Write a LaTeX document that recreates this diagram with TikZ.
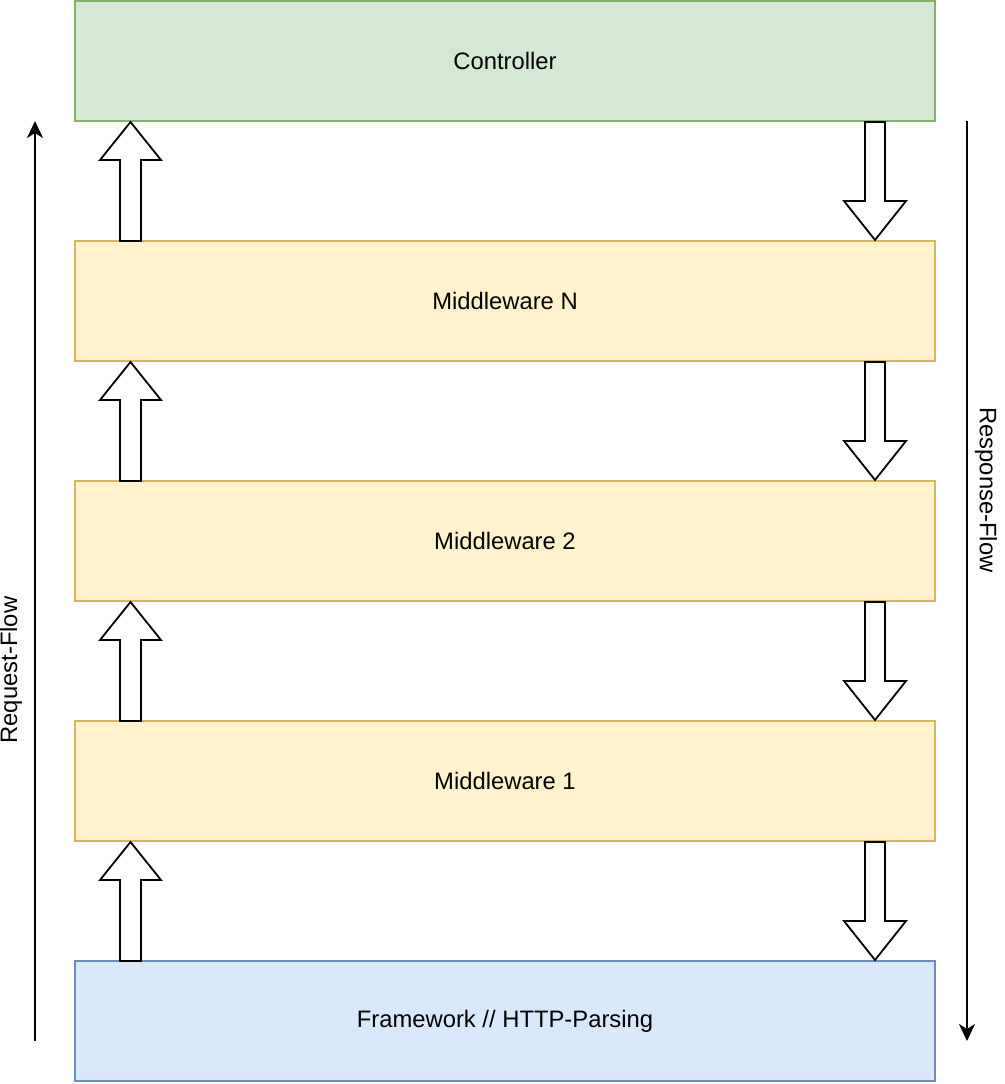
\documentclass[tikz,border=0pt]{standalone}
\usepackage{fontspec}
\setmainfont{Liberation Sans}
\usetikzlibrary{arrows.meta}
\definecolor{gfill}{HTML}{D5E8D4}\definecolor{gline}{HTML}{82B366}
\definecolor{yfill}{HTML}{FFF2CC}\definecolor{yline}{HTML}{D6B656}
\definecolor{bfill}{HTML}{DAE8FC}\definecolor{bline}{HTML}{6C8EBF}
\tikzset{
  layer/.style={line width=1.8pt, minimum width=860pt, minimum height=120pt, inner sep=0pt, outer sep=0pt, anchor=north west, font=\fontsize{23.8}{28}\selectfont},
  ctrl/.style={layer, fill=gfill, draw=gline},
  mw/.style={layer, fill=yfill, draw=yline},
  fw/.style={layer, fill=bfill, draw=bline},
  blk/.style={draw=black, fill=white, line width=1.8pt, line join=miter},
  flow/.style={line width=2pt, -{Stealth[length=17pt,width=16pt,inset=5pt]}},
  lbl/.style={font=\fontsize{23.8}{28}\selectfont, inner sep=0pt}
}
\begin{document}
\begin{tikzpicture}[x=1pt,y=-1pt]
\useasboundingbox (0,0) rectangle (1004,1084);
\node[ctrl] (c) at (75,1) {Controller};
\node[mw] (mn) at (75,241) {Middleware N};
\node[mw] (m2) at (75,481) {Middleware 2};
\node[mw] (m1) at (75,721) {Middleware 1};
\node[fw] (f) at (75,961) {Framework // HTTP-Parsing};
% up block arrows (request)
\foreach \t in {121,361,601,841}{
  \draw[blk] (120,\t+120) -- (120,\t+39) -- (100,\t+39) -- (130.5,\t+1) -- (161,\t+39) -- (141,\t+39) -- (141,\t+120) -- cycle;
}
% down block arrows (response)
\foreach \t in {121,361,601,841}{
  \draw[blk] (865,\t+1) -- (865,\t+80) -- (844,\t+80) -- (875,\t+119) -- (906,\t+80) -- (885,\t+80) -- (885,\t+1) -- cycle;
}
\coordinate (rq0) at (35,1041);
\coordinate (rq1) at (35,121);
\coordinate (rs0) at (967,121);
\coordinate (rs1) at (967,1041);
\draw[flow] (rq0) -- (rq1);
\draw[flow] (rs0) -- (rs1);
\node[lbl, rotate=90] (rql) at (11,670) {Request-Flow};
\node[lbl, rotate=-90] (rsl) at (986,490) {Response-Flow};
\end{tikzpicture}
\end{document}
